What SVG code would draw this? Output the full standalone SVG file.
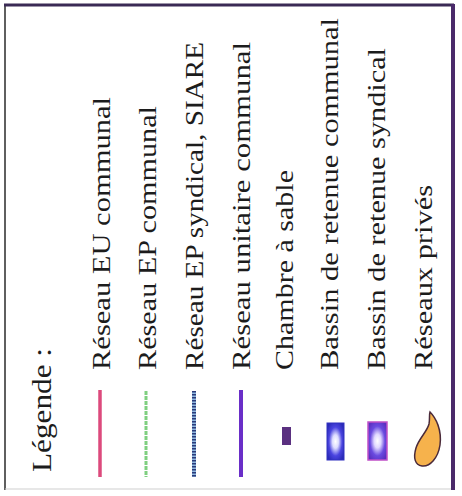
<svg xmlns="http://www.w3.org/2000/svg" width="462" height="496" viewBox="0 0 462 496">
<defs>
<style>
.t{font-family:"Liberation Serif","Times New Roman",serif;font-size:26px;fill:#1c1c1c;}
.h{font-family:"Liberation Serif","Times New Roman",serif;font-size:28px;fill:#1c1c1c;}
</style>
<radialGradient id="g1" cx="0.5" cy="0.5" r="0.6">
<stop offset="0" stop-color="#ffffff"/>
<stop offset="0.3" stop-color="#dcdcff"/>
<stop offset="0.65" stop-color="#4a44e0"/>
<stop offset="1" stop-color="#2a2ab8"/>
</radialGradient>
<radialGradient id="g2" cx="0.5" cy="0.5" r="0.6">
<stop offset="0" stop-color="#ffffff"/>
<stop offset="0.3" stop-color="#e0d8ff"/>
<stop offset="0.65" stop-color="#6a4ae0"/>
<stop offset="1" stop-color="#5a30c0"/>
</radialGradient>
</defs>
<rect x="0" y="0" width="462" height="496" fill="#ffffff"/>
<g id="frame">
<line x1="5" y1="5" x2="5" y2="490" stroke="#2a2a2a" stroke-width="1.5"/>
<line x1="5" y1="489" x2="452" y2="489" stroke="#cfcfcf" stroke-width="1.2"/>
<line x1="4" y1="5" x2="454" y2="5" stroke="#3a2a55" stroke-width="3"/>
<line x1="453" y1="4" x2="453" y2="490" stroke="#4a2a6a" stroke-width="4"/>
</g>
<g id="title">
<text class="h" transform="translate(51,472) rotate(-90)" textLength="124" lengthAdjust="spacingAndGlyphs">Légende :</text>
</g>
<g id="connectors">
<g id="eu-communal">
<line x1="100" y1="390" x2="100" y2="477" stroke="#dc4a7c" stroke-width="3.5"/>
<text class="t" transform="translate(110,370) rotate(-90)" textLength="273" lengthAdjust="spacingAndGlyphs">Réseau EU communal</text>
</g>
<g id="ep-communal">
<line x1="146" y1="391" x2="146" y2="477" stroke="#7fcf80" stroke-width="3" stroke-dasharray="4 1"/>
<text class="t" transform="translate(156,370) rotate(-90)" textLength="264" lengthAdjust="spacingAndGlyphs">Réseau EP communal</text>
</g>
<g id="ep-syndical">
<line x1="194" y1="391" x2="194" y2="477" stroke="#8fb8e0" stroke-width="4"/>
<line x1="194" y1="391" x2="194" y2="477" stroke="#2a3a7a" stroke-width="4" stroke-dasharray="1.5 1.5"/>
<text class="t" transform="translate(203,370) rotate(-90)" textLength="328" lengthAdjust="spacingAndGlyphs">Réseau EP syndical, SIARE</text>
</g>
<g id="unitaire-communal">
<line x1="241" y1="390" x2="241" y2="477" stroke="#6a2ec8" stroke-width="4"/>
<text class="t" transform="translate(250,370) rotate(-90)" textLength="328" lengthAdjust="spacingAndGlyphs">Réseau unitaire communal</text>
</g>
</g>
<g id="chambre">
<rect x="282" y="427" width="9" height="18" fill="#5a3080"/>
<text class="t" transform="translate(293,370) rotate(-90)" textLength="200" lengthAdjust="spacingAndGlyphs">Chambre à sable</text>
</g>
<g id="bassin-communal">
<rect x="327" y="423" width="17" height="37" fill="url(#g1)" stroke="#3030c0" stroke-width="1"/>
<text class="t" transform="translate(338,370) rotate(-90)" textLength="352" lengthAdjust="spacingAndGlyphs">Bassin de retenue communal</text>
</g>
<g id="bassin-syndical">
<rect x="368" y="422" width="19" height="38" fill="url(#g2)" stroke="#c050c8" stroke-width="1.5"/>
<text class="t" transform="translate(385,370) rotate(-90)" textLength="322" lengthAdjust="spacingAndGlyphs">Bassin de retenue syndical</text>
</g>
<g id="prives">
<path d="M430,412 C436,418 442,430 440,445 C438,458 430,467 422,466 C415,465 413,458 416,448 C419,438 427,432 429,424 C430,419 429,415 430,412 Z" fill="#f6b24c" stroke="#4a2a3a" stroke-width="1.5"/>
<text class="t" transform="translate(432,370) rotate(-90)" textLength="185" lengthAdjust="spacingAndGlyphs">Réseaux privés</text>
</g>
</svg>
